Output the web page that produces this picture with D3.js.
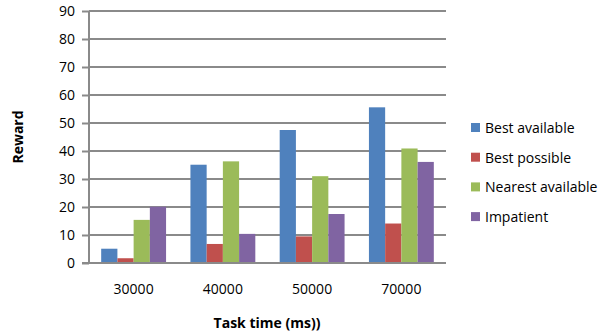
<!DOCTYPE html>
<html>
<head>
<meta charset="utf-8">
<script src="https://cdn.jsdelivr.net/npm/d3@7"></script>
<style>
  html, body { margin: 0; padding: 0; background: #fff; }
  svg { display: block; }
  text { font-family: "Open Sans", "Liberation Sans", sans-serif; fill: #000; }
</style>
</head>
<body>
<svg id="chart" width="605" height="334"></svg>
<script>
// Task-time categories and the reward for each strategy
const categories = ["30000", "40000", "50000", "70000"];
const seriesNames = ["Best available", "Best possible", "Nearest available", "Impatient"];
const bestAvailable = [5.1, 35.1, 47.5, 55.6];
const bestPossible = [1.7, 6.8, 9.5, 14.1];
const nearestAvailable = [15.4, 36.3, 31.0, 40.9];
const impatient = [20.1, 10.4, 17.5, 36.1];
const yTicks = [0, 10, 20, 30, 40, 50, 60, 70, 80, 90];
const colors = ["#4F81BD", "#C0504D", "#9BBB59", "#8064A2"];

const seriesValues = [bestAvailable, bestPossible, nearestAvailable, impatient];

const svg = d3.select("#chart");
const plot = { left: 89, right: 446, top: 11, bottom: 263 };

const x = d3.scaleBand()
  .domain(categories)
  .range([plot.left, plot.right])
  .paddingInner(0.273)
  .paddingOuter(0.1365);

const xInner = d3.scaleBand()
  .domain(seriesNames)
  .range([0, x.bandwidth()]);

const y = d3.scaleLinear()
  .domain([0, 90])
  .range([plot.bottom, plot.top]);

// Horizontal gridlines
svg.append("g")
  .selectAll("line")
  .data(yTicks.filter(d => d > 0))
  .join("line")
  .attr("x1", plot.left)
  .attr("x2", plot.right)
  .attr("y1", d => y(d))
  .attr("y2", d => y(d))
  .attr("stroke", "#8a8a8a")
  .attr("stroke-width", 2);

// Bars
const groups = svg.append("g")
  .selectAll("g")
  .data(categories)
  .join("g")
  .attr("transform", d => `translate(${x(d)},0)`);

groups.selectAll("rect")
  .data((c, i) => seriesNames.map((s, k) => ({ s, k, v: seriesValues[k][i] })))
  .join("rect")
  .attr("x", d => xInner(d.s))
  .attr("width", xInner.bandwidth())
  .attr("y", d => y(d.v))
  .attr("height", d => y(0) - y(d.v))
  .attr("fill", d => colors[d.k]);

// Y axis
const yAxis = svg.append("g")
  .attr("transform", `translate(${plot.left},0)`)
  .call(d3.axisLeft(y).tickValues(yTicks).tickSize(7).tickPadding(7).tickFormat(d3.format("d")));
yAxis.select(".domain").attr("stroke", "#8a8a8a").attr("stroke-width", 2)
  .attr("d", `M0,${plot.bottom}V${plot.top}`);
yAxis.selectAll(".tick line").attr("stroke", "#8a8a8a").attr("stroke-width", 2);
yAxis.selectAll(".tick text").attr("font-size", 14).attr("font-family", "Open Sans, sans-serif").attr("fill", "#000");

// X axis
const xAxis = svg.append("g")
  .attr("transform", `translate(0,${plot.bottom})`)
  .call(d3.axisBottom(x).tickSize(0).tickPadding(21));
xAxis.select(".domain").attr("stroke", "#8a8a8a").attr("stroke-width", 2)
  .attr("d", `M${plot.left - 7},0H${plot.right}`);
xAxis.selectAll(".tick text").attr("font-size", 14).attr("font-family", "Open Sans, sans-serif").attr("fill", "#000");

// Axis titles
svg.append("text")
  .attr("transform", "translate(23,137) rotate(-90)")
  .attr("text-anchor", "middle")
  .attr("font-size", 14)
  .attr("font-weight", "bold")
  .text("Reward");

svg.append("text")
  .attr("x", 267)
  .attr("y", 328)
  .attr("text-anchor", "middle")
  .attr("font-size", 14)
  .attr("font-weight", "bold")
  .text("Task time (ms))");

// Legend
const legend = svg.append("g")
  .selectAll("g")
  .data(seriesNames)
  .join("g")
  .attr("transform", (d, i) => `translate(471,${128 + i * 29.7})`);

legend.append("rect")
  .attr("x", 0)
  .attr("y", -5)
  .attr("width", 9)
  .attr("height", 9)
  .attr("fill", (d, i) => colors[i]);

legend.append("text")
  .attr("x", 14)
  .attr("y", 0)
  .attr("dy", "0.35em")
  .attr("font-size", 14)
  .text(d => d);
</script>
</body>
</html>
